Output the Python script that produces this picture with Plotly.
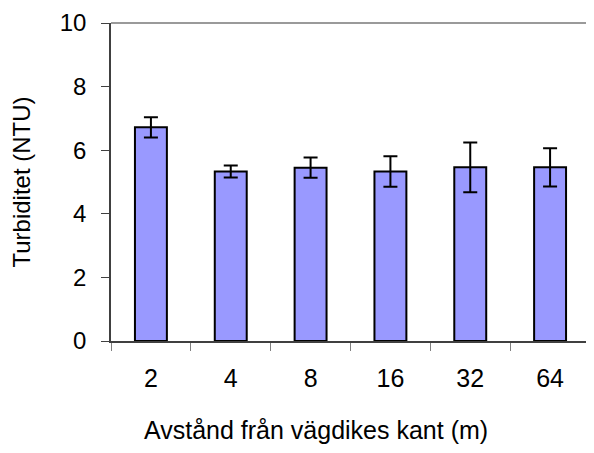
import plotly.graph_objects as go

categories = ["2", "4", "8", "16", "32", "64"]
values = [6.72, 5.33, 5.45, 5.33, 5.46, 5.46]
errors = [0.32, 0.19, 0.32, 0.48, 0.78, 0.60]
y_ticks = [0, 2, 4, 6, 8, 10]
x_title = "Avstånd från vägdikes kant (m)"
y_title = "Turbiditet (NTU)"

font = "Liberation Sans, Arial, sans-serif"

fig = go.Figure(go.Bar(
    x=categories, y=values, width=0.4,
    marker=dict(color="#9999FF", line=dict(color="black", width=2)),
    error_y=dict(type="data", array=errors, visible=True, color="black", thickness=2, width=7),
))

# page body has an 8px margin, so the figure is sized to fit the 594x453 window exactly
fig.update_layout(
    width=586, height=437,
    margin=dict(l=103, r=4, t=15, b=104),
    paper_bgcolor="white", plot_bgcolor="white",
    font=dict(family=font, size=24, color="black"),
    showlegend=False,
    shapes=[dict(type="line", xref="paper", yref="paper", x0=0, x1=1, y0=1, y1=1,
                 line=dict(color="#9a9a9a", width=2))],
    annotations=[dict(text=x_title, xref="paper", yref="paper", x=0.427, y=-0.326,
                      xanchor="center", yanchor="bottom", showarrow=False, borderpad=0,
                      font=dict(size=25))],
)
fig.update_xaxes(
    type="category", tickson="boundaries", ticks="outside", ticklen=8, tickcolor="#808080",
    showline=True, linecolor="#404040", linewidth=1.5, showgrid=False,
    tickfont=dict(size=25),
    ticklabelstandoff=14, automargin=False,
    range=[-0.5, 5.5],
)
fig.update_yaxes(
    range=[0, 10], tickvals=y_ticks, ticks="outside", ticklen=8, tickcolor="#404040",
    showline=True, linecolor="#404040", linewidth=1.5, showgrid=False, zeroline=False,
    tickfont=dict(size=24),
    ticklabelstandoff=10, automargin=False,
    title=dict(text=y_title, standoff=28, font=dict(size=24)),
)

fig.write_html("out.html")
